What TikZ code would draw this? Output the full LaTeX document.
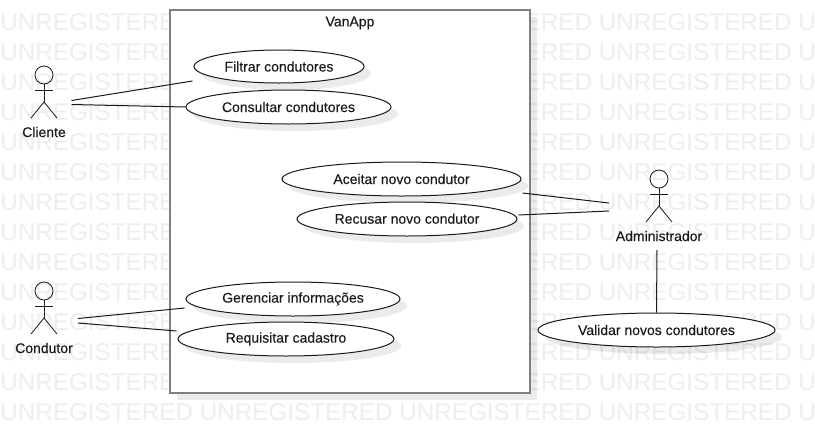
\documentclass[tikz,border=0pt]{standalone}
\usepackage{fontspec}
\setmainfont{Liberation Sans}
\newfontfamily\lblfont[FakeBold=0.15]{Liberation Sans}
\usetikzlibrary{shapes.geometric,shadows}
\definecolor{wmgray}{HTML}{EEEEEE}
\definecolor{framegray}{HTML}{7F7F7F}
\definecolor{inkdark}{HTML}{1A1A1A}
\tikzset{
  softshadow/.style={general shadow={shadow xshift=5.25pt,shadow yshift=-5.25pt,fill=black,fill opacity=0.08}},
  usecase/.style={ellipse,draw=inkdark,line width=0.75pt,fill=white,inner sep=0pt,softshadow,font=\lblfont\fontsize{10.5}{12}\selectfont,text=inkdark},
  sysframe/.style={rectangle,draw=framegray,line width=1.5pt,fill=white,inner sep=0pt,softshadow},
  actorline/.style={draw=inkdark,line width=0.6pt},
  assoc/.style={draw=inkdark,line width=0.75pt},
  lbl/.style={inner sep=0pt,font=\lblfont\fontsize{10.5}{12}\selectfont,text=inkdark},
  wm/.style={anchor=base west,inner sep=0pt,font=\fontsize{18.2}{20}\selectfont,text=wmgray},
}
\begin{document}
\begin{tikzpicture}[x=0.75pt,y=-0.75pt]
\useasboundingbox (0,0) rectangle (815,433);
\clip (0,0) rectangle (815,433);
\fill[white] (0,0) rectangle (815,433);
\foreach \r in {0,...,13}
  \node[wm] (wm\r) at (0,30+30*\r) {UNREGISTERED UNREGISTERED UNREGISTERED UNREGISTERED U};

\node[sysframe,minimum width=270pt,minimum height=287.25pt] (frame) at (350,201.5) {};
\node[lbl] (title) at (350,23) {VanApp};

\node[usecase,minimum width=127.5pt,minimum height=24.75pt] (filtrar) at (279,66.5) {Filtrar condutores};
\node[usecase,minimum width=153.75pt,minimum height=25.5pt] (consultar) at (288.5,107) {Consultar condutores};
\node[usecase,minimum width=179.25pt,minimum height=25.5pt] (aceitar) at (401.5,179) {Aceitar novo condutor};
\node[usecase,minimum width=165pt,minimum height=25.5pt] (recusar) at (407,219) {\raisebox{0.6pt}{Recusar novo condutor}};
\node[usecase,minimum width=160.5pt,minimum height=25.5pt] (gerenciar) at (293,299) {Gerenciar informações};
\node[usecase,minimum width=162pt,minimum height=25.5pt] (requisitar) at (286,339) {Requisitar cadastro};
\node[usecase,minimum width=177.75pt,minimum height=25.5pt] (validar) at (656.5,330) {Validar novos condutores};

% actors
\foreach \n/\cx/\hy in {a/44/75,b/44/291,c/659/179}{
  \draw[actorline] (\cx,\hy) circle[radius=9];
  \draw[actorline] (\cx,\hy+9) -- (\cx,\hy+27);
  \draw[actorline] (\cx-9,\hy+15) -- (\cx+9,\hy+15);
  \draw[actorline] (\cx-13,\hy+43) -- (\cx,\hy+27) -- (\cx+13,\hy+43);
}
\node[lbl] (cliente) at (44,132) {Cliente};
\node[lbl] (condutor) at (44,348) {Condutor};
\node[lbl] (admin) at (659,236) {Administrador};

% connector ends beside the actors
\coordinate (clienteA) at (71.5,100.5);
\coordinate (clienteB) at (71.5,104.5);
\coordinate (condutorA) at (78,318.5);
\coordinate (condutorB) at (78,323);
\coordinate (adminA) at (609,203);
\coordinate (adminB) at (609,211);
\coordinate (adminC) at (657,250);

\draw[assoc] (clienteA) -- ([shift={(-1,14.5)}]filtrar.west);
\draw[assoc] (clienteB) -- (consultar.west);
\draw[assoc] (condutorA) -- ([shift={(-1,9)}]gerenciar.west);
\draw[assoc] (condutorB) -- ([shift={(-1,-8)}]requisitar.west);
\draw[assoc] (adminA) -- ([shift={(1,14)}]aceitar.east);
\draw[assoc] (adminB) -- ([shift={(1,-4)}]recusar.east);
\draw[assoc] (adminC) -- (validar.north);
\end{tikzpicture}
\end{document}
